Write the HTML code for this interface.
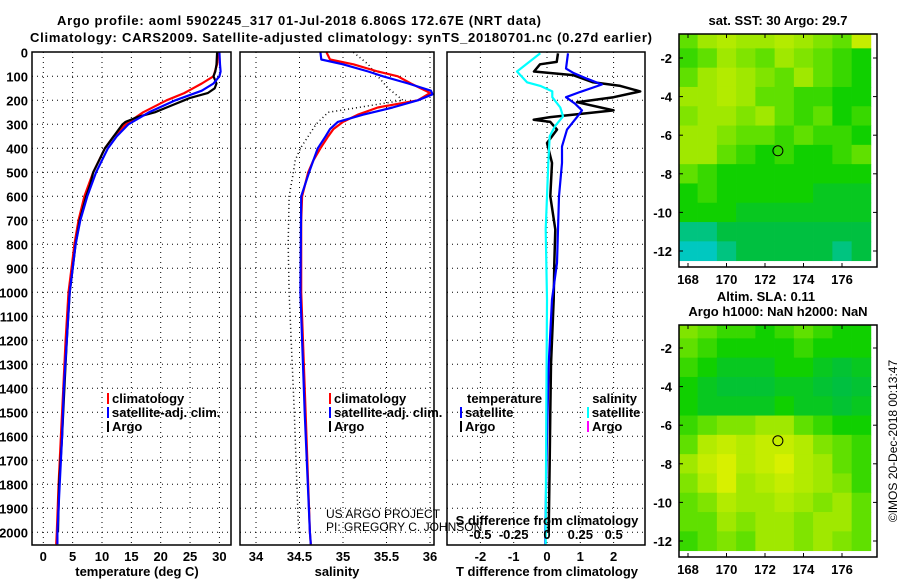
<!DOCTYPE html>
<html><head><meta charset="utf-8"><style>
html,body{margin:0;padding:0;background:#fff;}
svg{display:block;font-family:"Liberation Sans",sans-serif;}
.b{font-weight:bold;font-size:13px;}
</style></head><body>
<svg id="s" width="900" height="580" viewBox="0 0 900 580">
<text x="299" y="25" text-anchor="middle" class="b" font-size="14" textLength="484">Argo profile: aoml 5902245_317 01-Jul-2018 6.806S 172.67E (NRT data)</text>
<text x="341" y="42" text-anchor="middle" class="b" font-size="14" textLength="622">Climatology: CARS2009. Satellite-adjusted climatology: synTS_20180701.nc (0.27d earlier)</text>
<g id="grid"></g>
<g id="marks"></g>
<g id="frames"></g>
<g id="labels"></g>
<text x="326" y="518" font-size="12" fill="#000">US ARGO PROJECT</text>
<text x="326" y="531" font-size="12" fill="#000">PI: GREGORY C. JOHNSON</text>
<text x="547" y="525" text-anchor="middle" class="b">S difference from climatology</text>
<text x="137" y="576" text-anchor="middle" class="b">temperature (deg C)</text>
<text x="337" y="576" text-anchor="middle" class="b">salinity</text>
<text x="547" y="576" text-anchor="middle" class="b">T difference from climatology</text>
<text x="778" y="25" text-anchor="middle" class="b">sat. SST: 30 Argo: 29.7</text>
<text x="766" y="301" text-anchor="middle" class="b">Altim. SLA: 0.11</text>
<text x="778" y="316" text-anchor="middle" class="b">Argo h1000: NaN h2000: NaN</text>
<text transform="translate(897,441) rotate(-90)" text-anchor="middle" font-size="12">©IMOS 20-Dec-2018 00:13:47</text>
</svg>
<script>
// ---- data ----
const tempDepthArgo=[0,50,80,100,130,150,170,190,200,220,250,270,290,300,350,400,450,500,550,600,700,800,900,1000,1200,1400,1600,1800,2000];
const tempArgo=[29.6,29.5,29.3,29.0,29.5,29.2,28,25,24,22,19,16,14,13.5,12,10.5,9.5,8.5,8,7.3,6.2,5.5,5,4.5,4,3.6,3.2,2.7,2.5];
const tempDepthClim=[0,50,100,130,150,170,200,250,300,350,400,500,600,700,800,900,1000,1200,1400,1600,1800,2000,2050];
const tempClim=[29.8,29.6,29,27,25.5,24,21,17,14,12,10.5,8.5,7,6,5.3,4.8,4.3,3.8,3.4,3,2.6,2.3,2.2];
const tempDepthSat=[0,50,80,100,130,160,200,250,300,350,400,500,600,700,800,900,1000,1200,1400,1600,1800,2000,2050];
const tempSat=[30,30.1,30.2,30,29,27,22.5,18,14.5,12.5,11,9,7.5,6.3,5.5,5,4.5,4,3.5,3.2,2.8,2.4,2.4];
const salDepthClim=[0,30,50,80,100,130,160,170,200,230,260,290,320,350,400,450,500,600,700,1000,1500,2000,2050];
const salClim=[34.81,34.85,35.12,35.4,35.63,35.78,35.95,36.0,35.86,35.4,35.17,35.0,34.89,34.83,34.74,34.66,34.6,34.53,34.52,34.52,34.57,34.62,34.63];
const salDepthSat=[0,30,50,80,100,130,160,175,200,230,260,290,320,350,400,450,500,600,1000,1500,2000,2050];
const salSat=[34.74,34.75,35.0,35.29,35.46,35.75,36.01,36.03,35.86,35.57,35.23,34.94,34.85,34.8,34.71,34.66,34.61,34.52,34.51,34.56,34.62,34.63];
const salDepthArgo=[0,50,100,150,200,250,300,350,400,450,500,600,800,1000,1500,2000];
const salArgo=[35.12,35.29,35.4,35.52,35.69,34.83,34.69,34.6,34.51,34.45,34.43,34.38,34.37,34.38,34.44,34.49];
const dTDepthArgo=[4,40,50,80,95,125,140,163,187,208,242,270,281,290,322,378,461,600,738,880,1030,1300,1500,1700,2000];
const dTArgo=[0.33,0.29,-0.21,-0.39,0.78,1.38,2.2,2.8,2.0,0.9,2.0,0.1,-0.4,0.1,0.3,0,0.15,0.1,0.25,0.22,0.2,0.12,0.1,0.08,0.05];
const dTDepthSat=[4,68,85,110,134,165,187,215,242,270,322,392,461,600,877,1030,1300,1600,2000,2050];
const dTSat=[0.63,0.57,0.78,1.2,1.65,1.0,0.57,0.85,1.05,0.9,0.6,0.45,0.45,0.36,0.3,0.15,0.05,0.0,-0.05,-0.05];
const dSDepthSat=[4,80,125,140,163,187,230,267,308,350,461,738,1030,1500,2000,2050];
const dSSat=[-0.05,-0.225,-0.15,-0.05,0.04,0.04,0.1,0.12,0.06,0.02,0.01,-0.01,0,-0.005,-0.01,-0.01];
const depthTicks=[0,100,200,300,400,500,600,700,800,900,1000,1100,1200,1300,1400,1500,1600,1700,1800,1900,2000];
const tempTicks=[0,5,10,15,20,25,30];
const salTicks=[34,34.5,35,35.5,36];
const salTickLabels=["34","34.5","35","35.5","36"];
const dTTicks=[-2,-1,0,1,2];
const dSTicks=[-0.5,-0.25,0,0.25,0.5];
const dSTickLabels=["-0.5","-0.25","0","0.25","0.5"];
const mapLatTicks=[-2,-4,-6,-8,-10,-12];
const mapLonTicks=[168,170,172,174,176];
const mapLats=[-1,-2,-3,-4,-5,-6,-7,-8,-9,-10,-11,-12];
const mapLons=[168,169,170,171,172,173,174,175,176,177];
const sstGrid=[
[.6,.7,.75,.7,.7,.75,.7,.65,.6,.8],
[.55,.6,.7,.65,.6,.7,.65,.6,.55,.5],
[.6,.7,.75,.7,.65,.6,.7,.6,.55,.5],
[.7,.7,.75,.7,.6,.6,.55,.55,.5,.5],
[.65,.7,.7,.65,.7,.6,.55,.6,.5,.55],
[.7,.7,.65,.6,.6,.55,.6,.55,.55,.5],
[.7,.7,.6,.55,.5,.55,.5,.5,.55,.6],
[.6,.55,.5,.5,.5,.5,.5,.5,.5,.5],
[.5,.55,.5,.5,.5,.5,.5,.45,.45,.45],
[.5,.5,.5,.45,.45,.45,.45,.45,.45,.45],
[.35,.35,.4,.4,.4,.4,.4,.4,.4,.4],
[.3,.3,.35,.4,.4,.4,.4,.4,.35,.4]];
const slaGrid=[
[.65,.6,.55,.55,.5,.55,.6,.55,.5,.5],
[.6,.55,.5,.5,.5,.5,.55,.5,.5,.5],
[.55,.5,.45,.45,.45,.5,.5,.45,.42,.45],
[.5,.45,.42,.42,.42,.45,.45,.42,.4,.42],
[.5,.45,.45,.45,.45,.5,.45,.45,.42,.45],
[.55,.6,.65,.65,.7,.7,.6,.55,.5,.5],
[.6,.75,.8,.75,.8,.8,.75,.65,.6,.55],
[.7,.8,.85,.75,.8,.85,.75,.7,.6,.55],
[.65,.75,.85,.7,.75,.8,.75,.7,.65,.55],
[.6,.65,.75,.7,.7,.75,.7,.65,.7,.6],
[.6,.6,.7,.65,.7,.7,.65,.7,.7,.6],
[.55,.6,.65,.6,.7,.7,.65,.7,.65,.6]];
const argoLon=172.67, argoLat=-6.806;

// ---- scales ----
const NS="http://www.w3.org/2000/svg";
const yD=d=>52.3+d*0.24;
const xT=t=>43.3+t*5.87;
const xS=s=>256+(s-34)*87;
const xDT=t=>547+t*33.3;
const xDS=s=>547+s*133.3;
const P=[{x0:32,x1:231},{x0:240,x1:434},{x0:447,x1:645}];
const TOP=52, BOT=545;
function el(tag,attrs,parent){const e=document.createElementNS(NS,tag);for(const k in attrs)e.setAttribute(k,attrs[k]);parent.appendChild(e);return e;}
const grid=document.getElementById('grid'),marks=document.getElementById('marks'),frames=document.getElementById('frames'),labels=document.getElementById('labels');

// grids
P.forEach((p,i)=>{
  depthTicks.forEach(d=>{if(d===0)return;const l=el('line',{x1:p.x0,x2:p.x1,y1:yD(d),y2:yD(d),stroke:'#000','stroke-width':1,'stroke-dasharray':'1,4'},grid);
  
  });
});
function vgrid(ticks,fx){ticks.forEach(t=>{const l=el('line',{x1:fx(t),x2:fx(t),y1:TOP,y2:BOT,stroke:'#000','stroke-width':1,'stroke-dasharray':'1,4'},grid);
  
  });}
vgrid(tempTicks,xT);vgrid(salTicks,xS);vgrid(dTTicks,xDT);

// frames
P.forEach((p,i)=>{const r=el('rect',{x:p.x0,y:TOP,width:p.x1-p.x0,height:BOT-TOP,fill:'none',stroke:'#000','stroke-width':1.5},frames);
  
  });

// depth labels
depthTicks.forEach(d=>{const t=el('text',{x:28,y:yD(d)+5,'text-anchor':'end',class:'b'},labels);t.textContent=d;
  
  });
function xlabels(ticks,texts,fx,y,name){ticks.forEach((v,i)=>{const t=el('text',{x:fx(v),y:y,'text-anchor':'middle',class:'b'},labels);t.textContent=texts[i];
  
  });}
xlabels(tempTicks,tempTicks.map(String),xT,561,'temperature-tick-label');
xlabels(salTicks,salTickLabels,xS,561,'salinity-tick-label');
xlabels(dTTicks,dTTicks.map(String),xDT,561,'t-diff-tick-label');
xlabels(dSTicks,dSTickLabels,xDS,539,'s-diff-tick-label');

// lines
function poly(depths,vals,fx,color,w,name,dash){
  const pts=depths.map((d,i)=>fx(vals[i]).toFixed(1)+','+yD(d).toFixed(1)).join(' ');
  const a={points:pts,fill:'none',stroke:color,'stroke-width':w,'stroke-linejoin':'round'};
  if(dash)a['stroke-dasharray']=dash;
  const l=el('polyline',a,marks);
  
  
}
poly(tempDepthClim,tempClim,xT,'#f00',2.2,'temperature-climatology-line');
poly(tempDepthArgo,tempArgo,xT,'#000',2.2,'temperature-argo-line');
poly(tempDepthSat,tempSat,xT,'#00f',2.2,'temperature-satellite-line');
poly(salDepthArgo,salArgo,xS,'#000',1.5,'salinity-argo-line','1,3');
poly(salDepthClim,salClim,xS,'#f00',2.2,'salinity-climatology-line');
poly(salDepthSat,salSat,xS,'#00f',2.2,'salinity-satellite-line');
poly(dTDepthArgo,dTArgo,xDT,'#000',2.5,'t-diff-argo-line');
poly(dTDepthSat,dTSat,xDT,'#00f',2.2,'t-diff-satellite-line');
poly(dSDepthSat,dSSat,xDS,'#0ff',2.2,'s-diff-satellite-line');

// legends
function leg(x,y,color,text,name){
  const m=el('line',{x1:x,x2:x,y1:y-10,y2:y+1,stroke:color,'stroke-width':2},labels);
  
  
  const t=el('text',{x:x+4,y:y,class:'b'},labels);t.textContent=text;
  
  
}
leg(108,403,'#f00','climatology','legend-t-climatology');
leg(108,417,'#00f','satellite-adj. clim.','legend-t-satellite');
leg(108,431,'#000','Argo','legend-t-argo');
leg(330,403,'#f00','climatology','legend-s-climatology');
leg(330,417,'#00f','satellite-adj. clim.','legend-s-satellite');
leg(330,431,'#000','Argo','legend-s-argo');
(function(){const t=el('text',{x:467,y:403,class:'b'},labels);t.textContent='temperature';
 
 
 const u=el('text',{x:637,y:403,'text-anchor':'end',class:'b'},labels);u.textContent='salinity';
 
 })();
leg(461,417,'#00f','satellite','legend-dt-satellite');
leg(461,431,'#000','Argo','legend-dt-argo');
leg(588,417,'#0ff','satellite','legend-ds-satellite');
leg(588,431,'#f0f','Argo','legend-ds-argo');

// maps
const stops=[[0.3,[0,200,192]],[0.4,[0,192,64]],[0.5,[16,208,0]],[0.6,[96,224,0]],[0.7,[160,232,0]],[0.85,[216,240,0]],[1,[240,208,0]]];
function cmap(v){if(v<=stops[0][0])return 'rgb('+stops[0][1]+')';
 for(let i=1;i<stops.length;i++){if(v<=stops[i][0]){const a=stops[i-1],b=stops[i],f=(v-a[0])/(b[0]-a[0]);
 return 'rgb('+a[1].map((c,j)=>Math.round(c+(b[1][j]-c)*f)).join(',')+')';}}return 'rgb('+stops[stops.length-1][1]+')';}
function drawMap(top,bottom,lat2y,grid2,name,cid){
  const x0=679,x1=877;
  const xL=lon=>688+(lon-168)*19.25;
  const defs=el('defs',{},marks);const cp=el('clipPath',{id:cid},defs);el('rect',{x:x0,y:top,width:x1-x0,height:bottom-top},cp);
  const g=el('g',{'clip-path':'url(#'+cid+')'},marks);
  
  
  mapLats.forEach((lat,r)=>mapLons.forEach((lon,c)=>{
    const y0=lat2y(lat+0.5),y1=lat2y(lat-0.5);
    const rc=el('rect',{x:xL(lon-0.5),y:y0,width:19.6,height:y1-y0+0.4,fill:cmap(grid2[r][c])},g);
    
    
  }));
  const f=el('rect',{x:x0,y:top,width:x1-x0,height:bottom-top,fill:'none',stroke:'#000','stroke-width':1.5},frames);
  
  
  const c=el('circle',{cx:xL(argoLon),cy:lat2y(argoLat),r:5,fill:'none',stroke:'#000','stroke-width':1},marks);
  
  
  mapLatTicks.forEach(lat=>{
    const t=el('text',{x:672,y:lat2y(lat)+5,'text-anchor':'end',class:'b'},labels);t.textContent=lat;
    
    
    el('line',{x1:x1-4,x2:x1,y1:lat2y(lat),y2:lat2y(lat),stroke:'#000'},frames);
    el('line',{x1:x0,x2:x0+4,y1:lat2y(lat),y2:lat2y(lat),stroke:'#000'},frames);
  });
  mapLonTicks.forEach(lon=>{
    const t=el('text',{x:xL(lon),y:bottom+17,'text-anchor':'middle',class:'b'},labels);t.textContent=lon;
    
    
    el('line',{x1:xL(lon),x2:xL(lon),y1:top,y2:top+4,stroke:'#000'},frames);
    el('line',{x1:xL(lon),x2:xL(lon),y1:bottom-4,y2:bottom,stroke:'#000'},frames);
  });
}
drawMap(34,267,lat=>58+(-2-lat)*19.3,sstGrid,'sst-map','cp1');
drawMap(325,557,lat=>348+(-2-lat)*19.3,slaGrid,'sla-map','cp2');
</script>
</body></html>
